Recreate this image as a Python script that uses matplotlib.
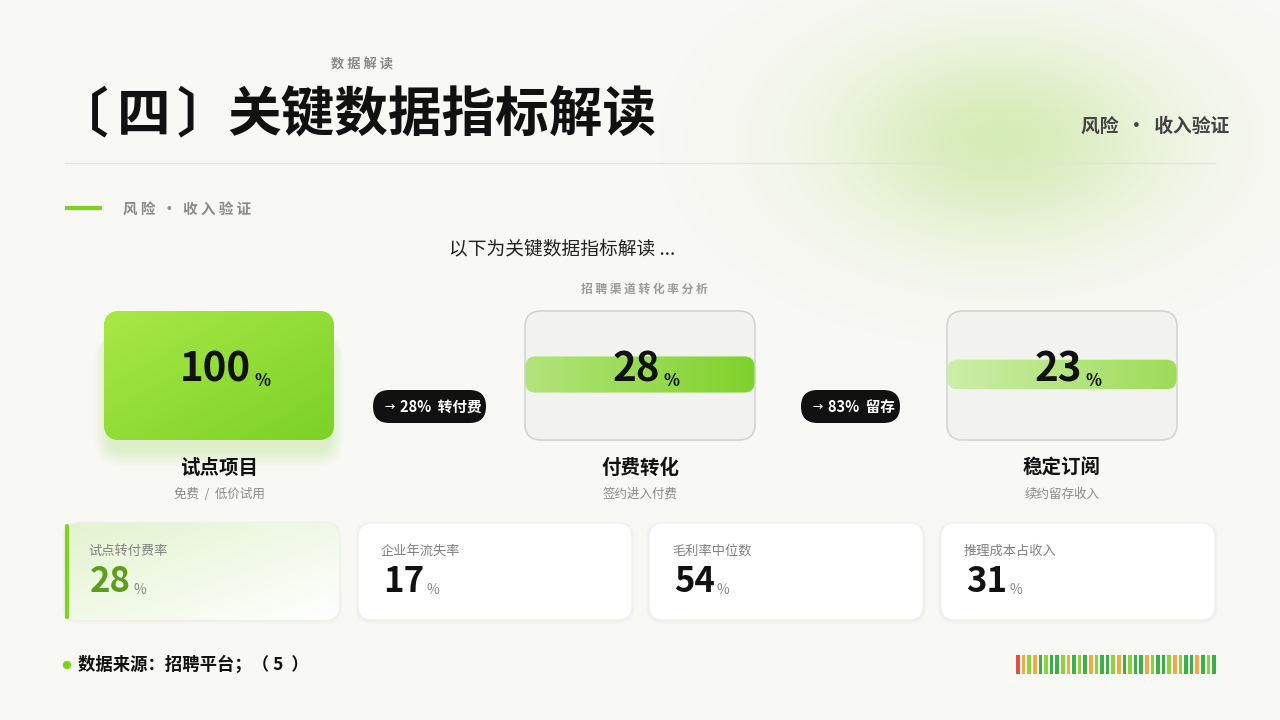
import numpy as np
import matplotlib
matplotlib.use("Agg")
import matplotlib.pyplot as plt
from matplotlib.patches import FancyBboxPatch, Circle
from matplotlib.colors import to_rgb

plt.rcParams['font.family'] = ['Noto Sans CJK SC', 'DejaVu Sans']

# funnel data
stage_names = ["试点项目", "付费转化", "稳定订阅"]
stage_subs = ["免费  /  低价试用", "签约进入付费", "续约留存收入"]
stage_values = [100, 28, 23]
step_rates = [28, 83]
step_labels = ["转付费", "留存"]

# kpi cards
kpi_labels = ["试点转付费率", "企业年流失率", "毛利率中位数", "推理成本占收入"]
kpi_values = [28, 17, 54, 31]

# decorative strip
strip_colors = ["r", "o", "l", "o", "g", "l", "g", "g", "l", "o", "g", "l",
                "g", "o", "l", "g", "g", "l", "o", "g", "l", "g", "g", "o",
                "l", "g", "g", "l", "o", "l", "g", "g", "o", "g", "l", "g"]
strip_map = {"r": "#d9534a", "o": "#f0a848", "l": "#8fd13c", "g": "#3cae4a"}

BG = "#f8f8f4"
GREEN = "#7ed321"

fig = plt.figure(figsize=(12.8, 7.2), dpi=100)
fig.patch.set_facecolor(BG)
ax = fig.add_axes([0, 0, 1, 1])
ax.set_xlim(0, 1280)
ax.set_ylim(720, 0)
ax.axis("off")
renderer = fig.canvas.get_renderer()


def rbox(x, y, w, h, r, **kw):
    p = FancyBboxPatch((x, y), w, h, boxstyle=f"round,pad=0,rounding_size={r}",
                       mutation_aspect=1, **kw)
    ax.add_patch(p)
    return p


def gradient(x, y, w, h, c0, c1, clip, direction="diag", alpha=1.0, z=2):
    n = 200
    u = np.linspace(0, 1, n)
    X, Y = np.meshgrid(u, u)
    if direction == "diag":
        t = (X + Y) / 2
    elif direction == "h":
        t = X
    else:
        t = Y
    a = np.array(to_rgb(c0))
    b = np.array(to_rgb(c1))
    img = a[None, None, :] * (1 - t[..., None]) + b[None, None, :] * t[..., None]
    im = ax.imshow(img, extent=(x, x + w, y + h, y), origin="upper",
                   interpolation="bilinear", zorder=z, alpha=alpha, aspect="auto")
    im.set_clip_path(clip)
    return im


def number_pair(cx, y, val, size, psize, color, pcolor, gap, pdy, center=True):
    # big number plus small % sign, measured so the pair can be centred
    t = ax.text(0, y, f"{val}", ha="left", va="center", fontsize=size,
                fontweight="bold", color=color, zorder=5)
    p = ax.text(0, y + pdy, "%", ha="left", va="center", fontsize=psize,
                fontweight="bold" if center else "normal", color=pcolor, zorder=5)
    wt = t.get_window_extent(renderer).width
    wp = p.get_window_extent(renderer).width
    x0 = cx - (wt + gap + wp) / 2 if center else cx
    t.set_x(x0)
    p.set_x(x0 + wt + gap)


# soft green glow top right
gx, gy = np.meshgrid(np.linspace(640, 1280, 400), np.linspace(-80, 380, 300))
d = ((gx - 1000) / 205) ** 2 + ((gy - 140) / 125) ** 2
glow = np.zeros(gx.shape + (4,))
glow[..., :3] = to_rgb("#d2ebb0")
glow[..., 3] = np.clip(0.9 * np.exp(-d * 1.5) - 0.01, 0, 1)
ax.imshow(glow, extent=(640, 1280, 380, -80), origin="upper", zorder=0,
          aspect="auto", interpolation="bilinear")

# header
ax.text(362, 65, "数 据 解 读", ha="center", va="center", fontsize=9.5,
        color="#8a8a8a", fontweight="bold")
ax.text(108, 116, "〔", ha="right", va="center", fontsize=38.6,
        color="#111111", fontweight="heavy")
ax.text(144, 116, "四", ha="center", va="center", fontsize=38.6,
        color="#111111", fontweight="heavy")
ax.text(177, 116, "〕", ha="left", va="center", fontsize=38.6,
        color="#111111", fontweight="heavy")
ax.text(227, 116, "关键数据指标解读", ha="left", va="center", fontsize=38.6,
        color="#111111", fontweight="heavy")
ax.text(1229, 126, "风险  ·  收入验证", ha="right", va="center", fontsize=13.5,
        color="#444444", fontweight="bold")
ax.plot([65, 1215], [163, 163], color="#e2e2de", lw=1, zorder=1)

ax.plot([65, 102], [208, 208], color=GREEN, lw=3, solid_capstyle="butt")
ax.text(123, 209, "风 险  ·  收 入 验 证", ha="left", va="center", fontsize=10.5,
        color="#8a8a8a", fontweight="bold")

ax.text(562, 249, "以下为关键数据指标解读 ...", ha="center", va="center",
        fontsize=13.5, color="#222222")
ax.text(644, 289, "招 聘 渠 道 转 化 率 分 析", ha="center", va="center",
        fontsize=8.5, color="#9a9a9a", fontweight="bold")

# funnel cards
card_x = [104, 525, 947]
card_y, card_w, card_h = 311, 230, 129
for i, (name, sub, val) in enumerate(zip(stage_names, stage_subs, stage_values)):
    x = card_x[i]
    cx = x + card_w / 2
    if val >= 100:
        for k in range(10):
            rbox(x + 4 - k * 1.5, card_y + 12 + k * 1.5, card_w - 8 + k * 3,
                 card_h, 18 + k, facecolor="#a5dc66", edgecolor="none",
                 alpha=0.03, zorder=1)
        card = rbox(x, card_y, card_w, card_h, 16, facecolor="#93dc36",
                    edgecolor="none", zorder=2)
        gradient(x, card_y, card_w, card_h, "#a9e847", "#7bd126", card)
    else:
        card = rbox(x, card_y, card_w, card_h, 16, facecolor="#f2f2ef",
                    edgecolor="#d4d4d0", lw=1.2, zorder=2)
        bh = card_h * val / 100
        by = card_y + card_h / 2 - bh / 2 - 1
        band = rbox(x + 0.5, by, card_w - 1, bh, 10, facecolor="none",
                    edgecolor="none", zorder=3)
        if i == 1:
            gradient(x, by, card_w, bh, "#b3e47c", "#7fd22a", band,
                     direction="h", z=3)
        else:
            gradient(x, by, card_w, bh, "#cdeeaa", "#9ddc58", band,
                     direction="h", z=3)
    number_pair(cx + 6, card_y + card_h / 2 - 5, val, 29, 12, "#111111",
                "#111111", 3, 11)
    ax.text(cx, 468, name, ha="center", va="center", fontsize=14,
            fontweight="bold", color="#111111")
    ax.text(cx, 494, sub, ha="center", va="center", fontsize=9,
            color="#8a8a8a")

# conversion pills
pill_x = [373, 801]
pill_w = [113, 99]
for px, pw, rate, lab in zip(pill_x, pill_w, step_rates, step_labels):
    rbox(px, 390, pw, 33, 16.5, facecolor="#111111", edgecolor="none", zorder=4)
    ax.text(px + 12, 406, "→", ha="left", va="center", fontsize=7.5,
            color="white", fontweight="bold", zorder=5)
    ax.text(px + 27, 407, f"{rate}%  {lab}", ha="left", va="center",
            fontsize=10.5, color="white", fontweight="bold", zorder=5)

# kpi cards
kpi_x = [65, 358, 649, 941]
kpi_y, kpi_w, kpi_h = 523, 274, 97
for i, (lab, val) in enumerate(zip(kpi_labels, kpi_values)):
    x = kpi_x[i]
    for k in range(4):
        rbox(x - k, kpi_y - k + 1, kpi_w + 2 * k, kpi_h + 2 * k, 14 + k,
             facecolor="#e6e6e0", edgecolor="none", alpha=0.12, zorder=1)
    card = rbox(x, kpi_y, kpi_w, kpi_h, 14, facecolor="white",
                edgecolor="#efefeb", lw=0.8, zorder=2)
    if i == 0:
        gradient(x, kpi_y, kpi_w, kpi_h, "#e3f3cf", "#ffffff", card, z=2.5)
        ax.plot([x + 1.5, x + 1.5], [kpi_y + 3, kpi_y + kpi_h - 3], color=GREEN,
                lw=3, zorder=4, solid_capstyle="round")
        vcol = "#5a9e1c"
    else:
        vcol = "#111111"
    ax.text(x + 23, 551, lab, ha="left", va="center", fontsize=9.5,
            color="#808080", zorder=5)
    number_pair(x + 25, 582, val, 25, 10, vcol, "#8a8a8a", 2, 8, center=False)

# footer
ax.add_patch(Circle((67, 665), 3.5, color=GREEN, zorder=3))
ax.text(78, 665, "数据来源：招聘平台；（ 5  ）", ha="left", va="center",
        fontsize=12.5, fontweight="bold", color="#111111")

# colour strip
xs = np.linspace(1018, 1214, len(strip_colors))
ax.bar(xs, [19] * len(xs), bottom=655, width=3.6,
       color=[strip_map[c] for c in strip_colors], zorder=3)

fig.savefig("out.png", dpi=100, facecolor=BG)
